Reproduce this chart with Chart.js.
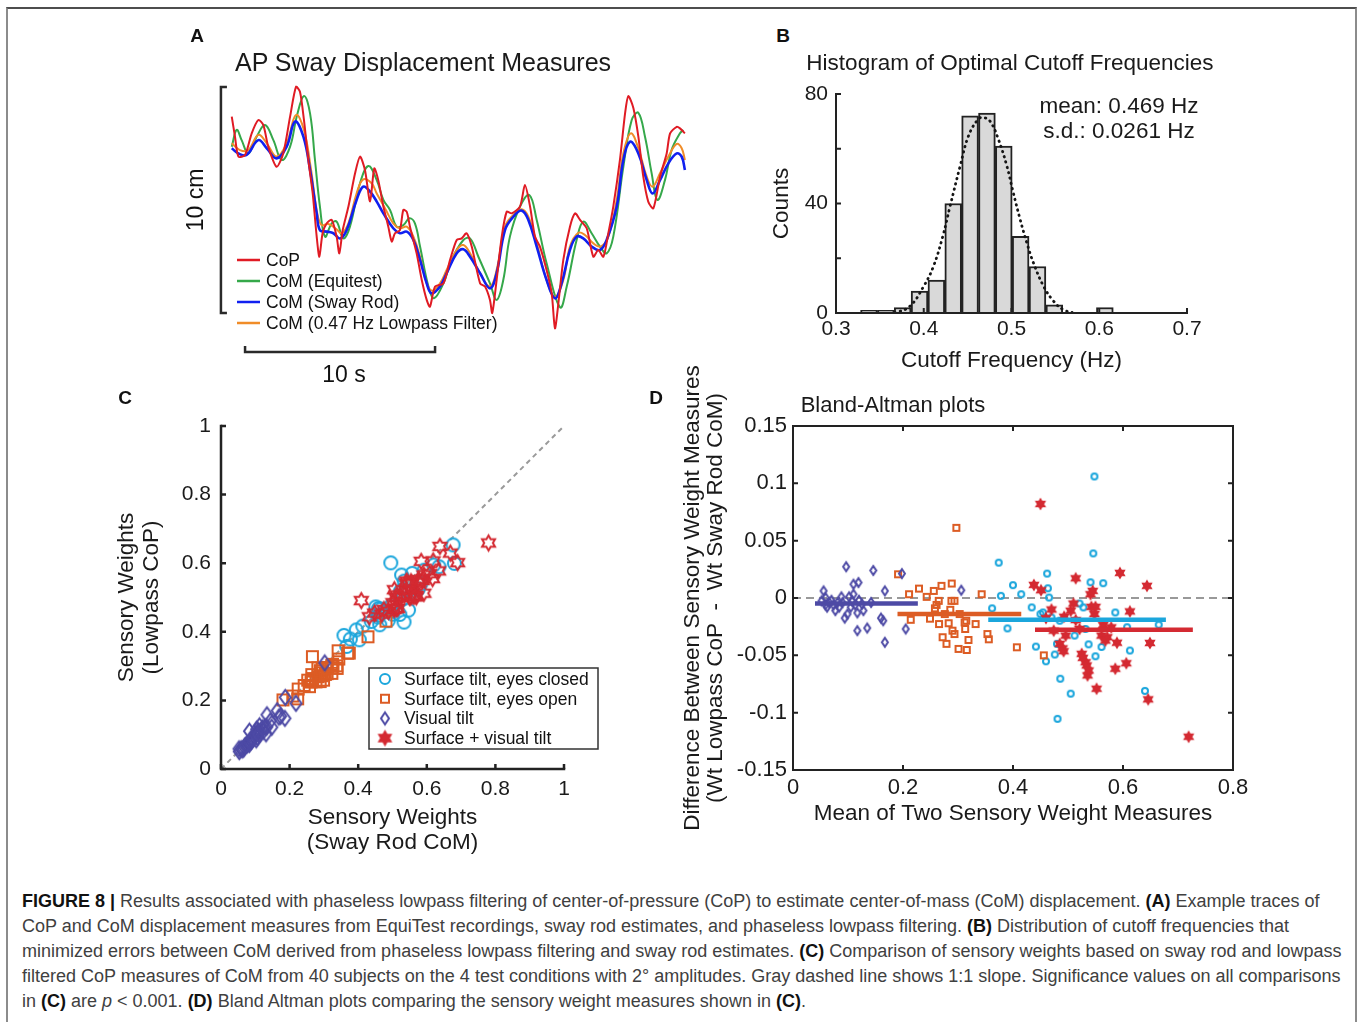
<!DOCTYPE html>
<html lang="en">
<head>
<meta charset="utf-8">
<title>Figure 8</title>
<script src="https://cdn.jsdelivr.net/npm/chart.js@4.4.1/dist/chart.umd.min.js"></script>
<style>
  html, body { margin: 0; padding: 0; background: #fff; }
  body { width: 1358px; height: 1022px; position: relative; overflow: hidden;
         font-family: "Liberation Sans", Arial, Helvetica, sans-serif; color: #1a1a1a; }
  .frame { position: absolute; left: 6px; top: 7px; width: 1347px; height: 1040px;
           border-top: 2px solid #4d4d4d; border-left: 2px solid #8c8c8c; border-right: 2px solid #8c8c8c; }
  canvas { position: absolute; }
  .t { position: absolute; white-space: nowrap; line-height: 1; transform: translate(-50%, -50%); }
  .letter { font-weight: bold; font-size: 19px; color: #111; }
  .caption { position: absolute; left: 22px; top: 889px; font-size: 18px; line-height: 25px;
             color: #404040; white-space: nowrap; }
  .caption b { color: #111; }
</style>
</head>
<body>
<div class="frame"></div>

<canvas id="cA" width="530" height="380" style="left:180px;top:20px"></canvas>
<canvas id="cB" width="450" height="307" style="left:760px;top:73px"></canvas>
<canvas id="cC" width="520" height="470" style="left:100px;top:400px"></canvas>
<canvas id="cD" width="600" height="495" style="left:660px;top:355px"></canvas>

<div class="t letter" style="left:197px;top:35px">A</div>
<div class="t" style="left:423px;top:62px;font-size:25px">AP Sway Displacement Measures</div>
<div class="t letter" style="left:783px;top:35px">B</div>
<div class="t" style="left:1010px;top:63px;font-size:22.5px">Histogram of Optimal Cutoff Frequencies</div>
<div class="t" style="left:1119px;top:118px;font-size:22.5px;line-height:25px;text-align:center">mean: 0.469 Hz<br>s.d.: 0.0261 Hz</div>
<div class="t letter" style="left:125px;top:397px">C</div>
<div class="t letter" style="left:656px;top:397px">D</div>
<div class="t" style="left:893px;top:405px;font-size:22px">Bland-Altman plots</div>

<div class="caption">
<b>FIGURE 8 |</b> Results associated with phaseless lowpass filtering of center-of-pressure (CoP) to estimate center-of-mass (CoM) displacement. <b>(A)</b> Example traces of<br>
CoP and CoM displacement measures from EquiTest recordings, sway rod estimates, and phaseless lowpass filtering. <b>(B)</b> Distribution of cutoff frequencies that<br>
minimized errors between CoM derived from phaseless lowpass filtering and sway rod estimates. <b>(C)</b> Comparison of sensory weights based on sway rod and lowpass<br>
filtered CoP measures of CoM from 40 subjects on the 4 test conditions with 2° amplitudes. Gray dashed line shows 1:1 slope. Significance values on all comparisons<br>
in <b>(C)</b> are <i>p</i> &lt; 0.001. <b>(D)</b> Bland Altman plots comparing the sensory weight measures shown in <b>(C)</b>.
</div>

<script>
// ---- Panel A: AP sway traces, [time s, displacement cm] ----
const copTrace = [[0.04,8.69],[0.21,7.80],[0.39,6.92],[0.74,6.99],[1.09,7.95],[1.44,8.54],[1.70,8.32],[1.96,7.36],[2.40,6.47],[2.75,7.06],[3.11,8.69],[3.42,10.01],[3.63,9.79],[3.84,8.54],[4.07,6.77],[4.30,5.29],[4.51,3.38],[4.65,2.49],[4.82,3.53],[5.04,3.97],[5.30,4.12],[5.56,3.38],[5.70,2.64],[5.88,3.67],[6.18,4.71],[6.53,6.18],[6.79,6.92],[7.05,6.33],[7.32,4.93],[7.54,6.40],[7.75,5.88],[8.02,4.71],[8.28,3.82],[8.46,3.16],[8.63,3.53],[8.89,3.67],[9.07,4.56],[9.25,4.48],[9.42,3.82],[9.77,2.64],[10.04,1.46],[10.30,0.58],[10.47,0.28],[10.74,1.17],[11.18,1.31],[11.53,2.35],[11.88,3.23],[12.14,3.30],[12.40,3.53],[12.67,2.94],[13.11,1.31],[13.37,1.17],[13.63,0.58],[13.75,0.00],[13.98,1.46],[14.25,3.38],[14.51,4.48],[14.77,4.41],[15.21,4.71],[15.47,5.66],[15.74,4.71],[16.00,3.38],[16.26,2.94],[16.61,1.90],[16.88,0.87],[17.05,-0.68],[17.23,0.43],[17.49,2.35],[17.84,3.82],[18.11,4.41],[18.37,4.12],[18.72,3.75],[19.07,2.49],[19.33,2.79],[19.60,2.49],[19.86,3.53],[20.12,4.71],[20.47,6.77],[20.74,8.83],[20.91,9.60],[21.18,9.06],[21.44,7.80],[21.70,6.03],[21.96,4.93],[22.23,4.63],[22.58,6.03],[22.93,7.06],[23.11,7.95],[23.46,8.24],[23.63,8.17],[23.89,7.95]];
const equitestTrace = [[0.04,7.36],[0.30,8.10],[0.56,7.65],[0.91,7.06],[1.35,7.80],[1.79,8.32],[2.23,7.65],[2.67,6.77],[3.11,7.36],[3.46,8.69],[3.84,9.60],[4.16,8.83],[4.42,6.77],[4.68,4.71],[4.95,3.38],[5.30,3.97],[5.56,4.04],[5.91,3.30],[6.26,3.82],[6.79,5.74],[7.23,6.50],[7.67,5.88],[8.02,5.00],[8.37,4.56],[8.72,3.82],[9.07,3.89],[9.39,4.19],[9.68,3.97],[9.95,2.94],[10.39,1.17],[10.68,0.65],[11.18,1.31],[11.61,2.35],[12.23,3.23],[12.58,3.30],[13.02,2.49],[13.63,1.31],[13.98,0.58],[14.33,1.46],[14.68,3.38],[15.21,4.71],[15.70,5.22],[16.09,4.12],[16.61,2.20],[17.32,0.25],[17.67,1.17],[18.19,3.23],[18.54,4.04],[18.98,3.53],[19.42,2.94],[19.77,2.64],[20.12,3.38],[20.65,6.47],[21.09,8.54],[21.44,8.86],[21.79,7.80],[22.14,6.18],[22.44,5.00],[22.84,5.88],[23.19,7.21],[23.63,7.95],[23.81,8.10]];
const swayRodTrace = [[0.04,7.29],[0.39,7.06],[0.82,6.99],[1.44,7.65],[1.88,7.29],[2.40,6.84],[2.93,7.36],[3.37,8.47],[3.81,7.80],[4.16,6.33],[4.51,4.41],[4.68,3.67],[5.04,3.60],[5.39,3.53],[5.74,3.30],[6.09,3.67],[6.61,5.00],[6.96,5.59],[7.32,5.37],[7.67,4.93],[8.02,4.41],[8.54,3.75],[8.89,3.53],[9.25,3.60],[9.60,3.23],[9.95,2.35],[10.30,1.31],[10.56,0.87],[11.00,1.17],[11.35,1.76],[11.88,2.64],[12.23,2.82],[12.58,2.49],[13.11,1.76],[13.63,1.09],[13.98,1.76],[14.42,3.67],[14.86,4.26],[15.30,4.53],[15.65,4.12],[16.09,2.94],[16.61,1.46],[17.05,0.65],[17.40,1.31],[17.84,2.79],[18.19,3.38],[18.54,3.30],[18.98,2.94],[19.42,2.79],[19.77,3.23],[20.30,4.71],[20.65,6.77],[21.00,7.58],[21.44,7.06],[21.88,5.88],[22.19,5.29],[22.58,5.88],[23.02,6.62],[23.46,7.06],[23.72,6.92],[23.89,6.33]];
const lowpassTrace = [[0.04,7.51],[0.47,7.21],[0.91,7.21],[1.44,7.88],[1.88,7.51],[2.40,6.92],[2.93,7.51],[3.42,8.76],[3.84,8.10],[4.19,6.47],[4.54,4.41],[4.77,3.89],[5.12,3.94],[5.56,3.70],[5.82,3.53],[6.18,3.97],[6.61,5.29],[6.96,5.91],[7.40,5.74],[7.67,5.29],[8.11,4.63],[8.54,3.97],[8.89,3.75],[9.25,3.82],[9.60,3.38],[9.95,2.49],[10.30,1.31],[10.60,0.99],[11.00,1.31],[11.35,1.90],[11.88,2.79],[12.23,3.01],[12.58,2.64],[13.11,1.76],[13.63,1.17],[13.98,1.90],[14.42,3.82],[14.86,4.34],[15.30,4.59],[15.65,4.26],[16.09,3.08],[16.61,1.46],[17.05,0.72],[17.49,1.46],[17.84,2.94],[18.28,3.55],[18.63,3.45],[19.07,3.08],[19.46,2.94],[19.86,3.38],[20.30,5.00],[20.65,7.06],[21.04,7.95],[21.44,7.29],[21.88,6.03],[22.19,5.59],[22.58,6.18],[23.02,6.92],[23.46,7.48],[23.72,7.29],[23.89,6.77]];
const traceLabels = ['CoP', 'CoM (Equitest)', 'CoM (Sway Rod)', 'CoM (0.47 Hz Lowpass Filter)'];
const scaleBarCm = 10, scaleBarSec = 10;

// ---- Panel B: histogram of optimal cutoff frequencies ----
const binCenters = [0.3376,0.3568,0.3760,0.3952,0.4144,0.4336,0.4528,0.4720,0.4912,0.5104,0.5296,0.5488,0.5680,0.5872,0.6064];
const binCounts  = [1,1,2,8,12,40,72,73,61,28,17,3,0,0,2];
const fitCurve = [[0.367,0],[0.384,2.4],[0.400,9.8],[0.411,17],[0.4217,28],[0.430,39],[0.4415,53.7],[0.451,64.7],[0.462,70.8],[0.468,71.4],[0.4757,70],[0.485,63.5],[0.4947,53.7],[0.502,44],[0.510,34],[0.5175,25.6],[0.525,18.3],[0.5365,9.8],[0.548,4.3],[0.559,1.2],[0.569,0.2]];
const bTicksX = [0.3,0.4,0.5,0.6,0.7];
const bTicksY = [0,20,40,60,80];

// ---- Panels C and D: [mean of two measures, lowpass minus sway rod] ----
const eyesClosed = [[0.362,-0.009],[0.374,0.0308],[0.378,0.0019],[0.39,-0.0265],[0.4,0.0112],[0.415,0.0033],[0.434,-0.0082],[0.4416,-0.0424],[0.45,-0.014],[0.4545,-0.0126],[0.46,-0.0552],[0.462,0.0213],[0.4635,0.0085],[0.4656,0.0004],[0.47,-0.0169],[0.476,-0.0493],[0.48,-0.04],[0.481,-0.1054],[0.485,-0.0198],[0.486,-0.0704],[0.505,-0.0834],[0.512,-0.0328],[0.521,-0.0048],[0.528,-0.0082],[0.532,-0.027],[0.5375,-0.0404],[0.541,0.0137],[0.546,0.0389],[0.548,0.106],[0.55,-0.0508],[0.561,-0.0427],[0.564,0.0129],[0.586,-0.0126],[0.6075,-0.0255],[0.6126,-0.0458],[0.64,-0.081],[0.665,-0.0233]];
const eyesOpen = [[0.191,0.0207],[0.211,0.0033],[0.214,-0.019],[0.229,0.0082],[0.243,0.001],[0.249,-0.018],[0.256,0.0062],[0.258,-0.009],[0.261,-0.006],[0.265,-0.0025],[0.2655,-0.0227],[0.27,0.0106],[0.272,-0.0342],[0.276,-0.014],[0.279,-0.04],[0.283,-0.022],[0.286,-0.0103],[0.2886,0.0126],[0.288,-0.0025],[0.2936,-0.0025],[0.29,-0.0285],[0.2936,-0.0314],[0.297,0.0612],[0.301,-0.0444],[0.303,-0.014],[0.312,-0.0213],[0.313,-0.027],[0.315,-0.0198],[0.316,-0.0453],[0.319,-0.0366],[0.332,-0.0227],[0.343,0.0033],[0.3535,-0.0314],[0.356,-0.036],[0.407,-0.043],[0.456,-0.05]];
const visualTilt = [[0.0967,0.0273],[0.146,0.024],[0.198,0.0213],[0.11,0.012],[0.119,0.0135],[0.0556,0.0062],[0.167,0.0062],[0.306,0.0068],[0.088,0.001],[0.102,0.001],[0.11,0.0033],[0.052,-0.0025],[0.059,-0.006],[0.066,-0.004],[0.077,-0.011],[0.084,-0.008],[0.094,-0.0175],[0.099,-0.014],[0.1075,-0.0025],[0.117,-0.013],[0.117,-0.0285],[0.1255,-0.0053],[0.135,-0.0262],[0.142,-0.0039],[0.16,-0.0175],[0.164,-0.0198],[0.167,-0.0386],[0.205,-0.027],[0.059,0.0004],[0.0736,-0.006],[0.113,-0.006],[0.128,-0.011],[0.081,-0.004],[0.062,-0.008],[0.07,-0.002],[0.09,-0.004],[0.105,-0.008],[0.12,-0.002]];
const surfVisual = [[0.438,0.0114],[0.45,0.082],[0.451,0.0068],[0.46,-0.0175],[0.47,-0.01],[0.474,-0.0285],[0.485,-0.04],[0.49,-0.0439],[0.492,-0.0464],[0.493,-0.0163],[0.4957,-0.0328],[0.505,-0.0111],[0.51,-0.0048],[0.514,0.0172],[0.514,-0.0192],[0.521,-0.027],[0.525,-0.0487],[0.527,-0.0522],[0.532,-0.056],[0.534,-0.0588],[0.5355,-0.0675],[0.5375,-0.0632],[0.541,0.0033],[0.5426,-0.0077],[0.545,0.0062],[0.548,-0.014],[0.55,-0.0077],[0.552,-0.0791],[0.561,-0.0328],[0.564,-0.0236],[0.568,-0.0371],[0.5714,-0.0342],[0.5786,-0.0256],[0.589,-0.039],[0.586,-0.0617],[0.5945,0.0219],[0.606,-0.0569],[0.6126,-0.0117],[0.6436,0.0106],[0.6457,-0.0884],[0.649,-0.0392],[0.7194,-0.121]];
const conditionNames = ['Surface tilt, eyes closed', 'Surface tilt, eyes open', 'Visual tilt', 'Surface + visual tilt'];
// mean difference per condition: [from mean, to mean, level]
const biasLines = [[0.355,0.678,-0.019],[0.19,0.415,-0.014],[0.04,0.227,-0.0048],[0.44,0.727,-0.0276]];
const identityRef = [0, 1];
const zeroRef = [0, 0.8];
const cTicks = [0,0.2,0.4,0.6,0.8,1];
const dTicksX = [0,0.2,0.4,0.6,0.8];
const dTicksY = [-0.15,-0.1,-0.05,0,0.05,0.1,0.15];

const FONT = '"Liberation Sans", Arial, Helvetica, sans-serif';
Chart.defaults.font.family = FONT;
Chart.defaults.color = '#1a1a1a';
const condColors = ['#1ba6dc', '#dc5c24', '#4d4aa5', '#d42a32'];
const condShapes = ['circle', 'square', 'diamond', 'hexagram'];

function marker(kind, w, h, color, lw, filled) {
  const pad = Math.ceil(lw) + 1;
  const c = document.createElement('canvas');
  c.width = Math.ceil(w + 2 * pad); c.height = Math.ceil(h + 2 * pad);
  const g = c.getContext('2d');
  const cx = c.width / 2, cy = c.height / 2, rx = w / 2, ry = h / 2;
  g.beginPath();
  if (kind === 'circle') g.ellipse(cx, cy, rx, ry, 0, 0, Math.PI * 2);
  else if (kind === 'square') g.rect(cx - rx, cy - ry, w, h);
  else if (kind === 'diamond') { g.moveTo(cx, cy - ry); g.lineTo(cx + rx, cy); g.lineTo(cx, cy + ry); g.lineTo(cx - rx, cy); g.closePath(); }
  else {
    for (let k = 0; k < 12; k++) {
      const ang = -Math.PI / 2 + k * Math.PI / 6;
      const r = k % 2 ? rx / Math.sqrt(3) : rx;
      const px = cx + r * Math.cos(ang), py = cy + r * Math.sin(ang);
      if (k) g.lineTo(px, py); else g.moveTo(px, py);
    }
    g.closePath();
  }
  if (filled) { g.fillStyle = color; g.fill(); }
  g.strokeStyle = color; g.lineWidth = lw; g.stroke();
  return c;
}
const bigSize = [[13,13,2,false],[11,11,2,false],[11,15,2,false],[15,15,2,false]];
const smallSize = [[6,6,2,false],[6,6,2,false],[6,9,2,false],[10,10,1.5,true]];
const legSize = [[10,10,2,false],[8,8,2,false],[8,12,2,false],[13,13,2,true]];
const mk = (sizes, i) => marker(condShapes[i], sizes[i][0], sizes[i][1], condColors[i], sizes[i][2], sizes[i][3]);

// MATLAB-like axes: axis lines plus inward tick marks
const matAxes = {
  id: 'matAxes',
  afterDatasetsDraw(chart, args, o) {
    const { ctx, chartArea: a, scales: { x, y } } = chart;
    const L = o.tickLen || 5;
    ctx.save();
    ctx.strokeStyle = o.color || '#222';
    ctx.lineWidth = o.lineWidth || 2;
    ctx.lineCap = 'square';
    ctx.beginPath();
    ctx.moveTo(a.left, a.top); ctx.lineTo(a.left, a.bottom); ctx.lineTo(a.right, a.bottom);
    if (o.box) { ctx.lineTo(a.right, a.top); ctx.closePath(); }
    ctx.stroke();
    ctx.lineCap = 'butt';
    ctx.beginPath();
    x.ticks.forEach(t => {
      const p = x.getPixelForValue(t.value);
      ctx.moveTo(p, a.bottom); ctx.lineTo(p, a.bottom - L);
      if (o.box) { ctx.moveTo(p, a.top); ctx.lineTo(p, a.top + L); }
    });
    y.ticks.forEach(t => {
      const p = y.getPixelForValue(t.value);
      ctx.moveTo(a.left, p); ctx.lineTo(a.left + L, p);
      if (o.box) { ctx.moveTo(a.right, p); ctx.lineTo(a.right - L, p); }
    });
    ctx.stroke();
    ctx.restore();
  }
};

function axis(ticks, fmt, pad, size, fixed, title, extra) {
  return Object.assign({
    type: 'linear', min: ticks[0], max: ticks[ticks.length - 1], offset: false,
    grid: { display: false, drawTicks: false },
    border: { display: false },
    afterBuildTicks: s => { s.ticks = ticks.map(v => ({ value: v })); },
    afterFit: s => { if (s.isHorizontal()) s.height = fixed; else s.width = fixed; },
    ticks: { autoSkip: false, maxRotation: 0, padding: pad, color: '#1a1a1a',
             font: { size: size, family: FONT }, callback: fmt },
    title: title
  }, extra || {});
}
const num = v => String(+v.toFixed(2));
const base = { responsive: false, animation: false, events: [], devicePixelRatio: 1,
               plugins: { legend: { display: false }, tooltip: { enabled: false } } };

// ---------- Panel A ----------
const scaleBars = {
  id: 'scaleBars',
  afterDraw(chart, args, o) {
    const { ctx, scales: { x, y } } = chart;
    const bx = x.getPixelForValue(o.cmBarAt);
    const y0 = y.getPixelForValue(0), y1 = y.getPixelForValue(scaleBarCm);
    const sy = y.getPixelForValue(o.secBarAt);
    const sx0 = x.getPixelForValue(o.secFrom), sx1 = x.getPixelForValue(o.secFrom + scaleBarSec);
    ctx.save();
    ctx.strokeStyle = '#2a2a2a'; ctx.lineWidth = 2.5;
    ctx.beginPath();
    ctx.moveTo(bx + 6, y1); ctx.lineTo(bx, y1); ctx.lineTo(bx, y0); ctx.lineTo(bx + 6, y0);
    ctx.moveTo(sx0, sy - 6); ctx.lineTo(sx0, sy); ctx.lineTo(sx1, sy); ctx.lineTo(sx1, sy - 6);
    ctx.stroke();
    ctx.fillStyle = '#111';
    ctx.font = '23px ' + FONT;
    ctx.textAlign = 'center'; ctx.textBaseline = 'middle';
    ctx.fillText(scaleBarSec + ' s', (sx0 + sx1) / 2 + 4, sy + 24);
    ctx.translate(bx - 24, (y0 + y1) / 2);
    ctx.rotate(-Math.PI / 2);
    ctx.fillText(scaleBarCm + ' cm', 0, 0);
    ctx.restore();
  }
};
const lineLegend = {
  id: 'lineLegend',
  afterDraw(chart, args, o) {
    const { ctx, chartArea: a } = chart;
    ctx.save();
    ctx.font = '17.5px ' + FONT; ctx.textBaseline = 'middle'; ctx.fillStyle = '#111';
    chart.data.datasets.forEach((ds, i) => {
      const yy = a.top + o.top + i * o.row;
      ctx.strokeStyle = ds.borderColor; ctx.lineWidth = 2.5;
      ctx.beginPath(); ctx.moveTo(a.left + o.left, yy); ctx.lineTo(a.left + o.left + 23, yy); ctx.stroke();
      ctx.fillText(ds.label, a.left + o.left + 29, yy + 1);
    });
    ctx.restore();
  }
};
const traceSets = [copTrace, equitestTrace, swayRodTrace, lowpassTrace];
const traceColors = ['#e01b24', '#35a84a', '#1020f0', '#f08c28'];
const traceOrder = [0, 3, 1, 2];
new Chart(document.getElementById('cA'), {
  type: 'line',
  data: { datasets: traceSets.map((tr, i) => ({
    label: traceLabels[i], data: tr.map(([x, y]) => ({ x, y })),
    borderColor: traceColors[i], borderWidth: i === 2 ? 2.6 : 2, pointRadius: 0,
    tension: i === 0 ? 0.25 : 0.4, order: traceOrder[i]
  })) },
  options: Object.assign({}, base, {
    layout: { padding: { left: 41.5, right: 13.5, top: 55.7, bottom: 53.1 } },
    scales: { x: { type: 'linear', display: false, min: -0.5, max: 24.5 },
              y: { type: 'linear', display: false, min: -1.5, max: 10.5 } },
    plugins: Object.assign({}, base.plugins, {
      scaleBars: { cmBarAt: -0.53, secBarAt: -1.73, secFrom: 0.74 },
      lineLegend: { left: 15.5, top: 184.3, row: 21 }
    })
  }),
  plugins: [scaleBars, lineLegend]
});

// ---------- Panel B ----------
new Chart(document.getElementById('cB'), {
  type: 'bar',
  data: { datasets: [
    { type: 'line', data: fitCurve.map(([x, y]) => ({ x, y })), borderColor: '#151515',
      borderWidth: 2.8, borderDash: [0.5, 5], borderCapStyle: 'round', pointRadius: 0, tension: 0.4, order: 0 },
    { type: 'bar', data: binCenters.map((x, i) => ({ x, y: binCounts[i] })),
      backgroundColor: '#d9d9d9', borderColor: '#222', borderWidth: 2,
      barPercentage: 1, categoryPercentage: 1, order: 1 }
  ] },
  options: Object.assign({}, base, {
    layout: { padding: { left: 0, right: 23, top: 21, bottom: 0 } },
    scales: {
      x: axis(bTicksX, v => v.toFixed(1), 3.5, 21, 67,
        { display: true, text: 'Cutoff Frequency (Hz)', font: { size: 22.5, family: FONT, lineHeight: 1.2 }, padding: { top: 0, bottom: 5.5 }, color: '#1a1a1a' }),
      y: axis(bTicksY, v => (v % 40 === 0 ? String(v) : ''), 8, 21, 76,
        { display: true, text: 'Counts', font: { size: 22.5, family: FONT, lineHeight: 1.2 }, padding: { top: 8.5, bottom: 0 }, color: '#1a1a1a' })
    },
    plugins: Object.assign({}, base.plugins, { matAxes: { lineWidth: 2, tickLen: 5 } })
  }),
  plugins: [matAxes]
});

// ---------- Panel C ----------
const boxLegend = {
  id: 'boxLegend',
  afterDraw(chart, args, o) {
    const { ctx, chartArea: a } = chart;
    const left = a.right + o.dx, top = a.bottom + o.dy;
    ctx.save();
    ctx.fillStyle = '#fff'; ctx.fillRect(left, top, o.w, o.h);
    ctx.strokeStyle = '#333'; ctx.lineWidth = 1.5; ctx.strokeRect(left, top, o.w, o.h);
    ctx.font = '17.5px ' + FONT; ctx.textBaseline = 'middle'; ctx.fillStyle = '#111';
    conditionNames.forEach((name, i) => {
      const yy = top + 11 + i * 19.7;
      const m = mk(legSize, i);
      ctx.drawImage(m, left + 16 - m.width / 2, yy - m.height / 2);
      ctx.fillText(name, left + 35, yy + 1);
    });
    ctx.restore();
  }
};
const condSets = [eyesClosed, eyesOpen, visualTilt, surfVisual];
const condOrder = [4, 3, 2, 1];
new Chart(document.getElementById('cC'), {
  type: 'scatter',
  data: { datasets: condSets.map((set, i) => ({
    label: conditionNames[i],
    data: set.map(([m, d]) => ({ x: m - d / 2, y: m + d / 2 })),
    pointStyle: mk(bigSize, i), pointRadius: 7, order: condOrder[i]
  })).concat([{
    type: 'line', data: identityRef.map(v => ({ x: v, y: v })), borderColor: '#9a9a9a',
    borderWidth: 2, borderDash: [5, 4], pointRadius: 0, order: 10
  }]) },
  options: Object.assign({}, base, {
    layout: { padding: { left: 0, right: 56, top: 26, bottom: 0 } },
    scales: {
      x: axis(cTicks, num, 7.5, 21, 101,
        { display: true, text: ['Sensory Weights', '(Sway Rod CoM)'], font: { size: 22.5, family: FONT, lineHeight: 1.1 }, padding: { top: 0, bottom: 14.6 }, color: '#1a1a1a' }),
      y: axis(cTicks, num, 10, 21, 121,
        { display: true, text: ['Sensory Weights', '(Lowpass CoP)'], font: { size: 22.5, family: FONT, lineHeight: 1.1 }, padding: { top: 14.6, bottom: 0 }, color: '#1a1a1a' })
    },
    plugins: Object.assign({}, base.plugins, {
      matAxes: { lineWidth: 2.5, tickLen: 5 },
      boxLegend: { dx: -195, dy: -101, w: 229, h: 81 }
    })
  }),
  plugins: [matAxes, boxLegend]
});

// ---------- Panel D ----------
new Chart(document.getElementById('cD'), {
  type: 'scatter',
  data: { datasets: condSets.map((set, i) => ({
    label: conditionNames[i],
    data: set.map(([m, d]) => ({ x: m, y: d })),
    pointStyle: mk(smallSize, i), pointRadius: 4, order: condOrder[i]
  })).concat(biasLines.map((b, i) => ({
    type: 'line', data: [{ x: b[0], y: b[2] }, { x: b[1], y: b[2] }],
    borderColor: condColors[i], borderWidth: 4.5, pointRadius: 0, order: 0
  }))).concat([{
    type: 'line', data: zeroRef.map(v => ({ x: v, y: 0 })), borderColor: '#999',
    borderWidth: 2, borderDash: [8, 5], pointRadius: 0, order: 10
  }]) },
  options: Object.assign({}, base, {
    layout: { padding: { left: 0, right: 27, top: 71, bottom: 0 } },
    scales: {
      x: axis(dTicksX, num, 4.5, 22, 80,
        { display: true, text: 'Mean of Two Sensory Weight Measures', font: { size: 22.5, family: FONT, lineHeight: 1.2 }, padding: { top: 0, bottom: 22.5 }, color: '#1a1a1a' }),
      y: axis(dTicksY, num, 6, 22, 133,
        { display: true, text: ['Difference Between Sensory Weight Measures', '(Wt Lowpass CoP  -  Wt Sway Rod CoM)'], font: { size: 22.5, family: FONT, lineHeight: 1.03 }, padding: { top: 21, bottom: 0 }, color: '#1a1a1a' })
    },
    plugins: Object.assign({}, base.plugins, { matAxes: { lineWidth: 2, tickLen: 5, box: true } })
  }),
  plugins: [matAxes]
});
</script>
</body>
</html>
